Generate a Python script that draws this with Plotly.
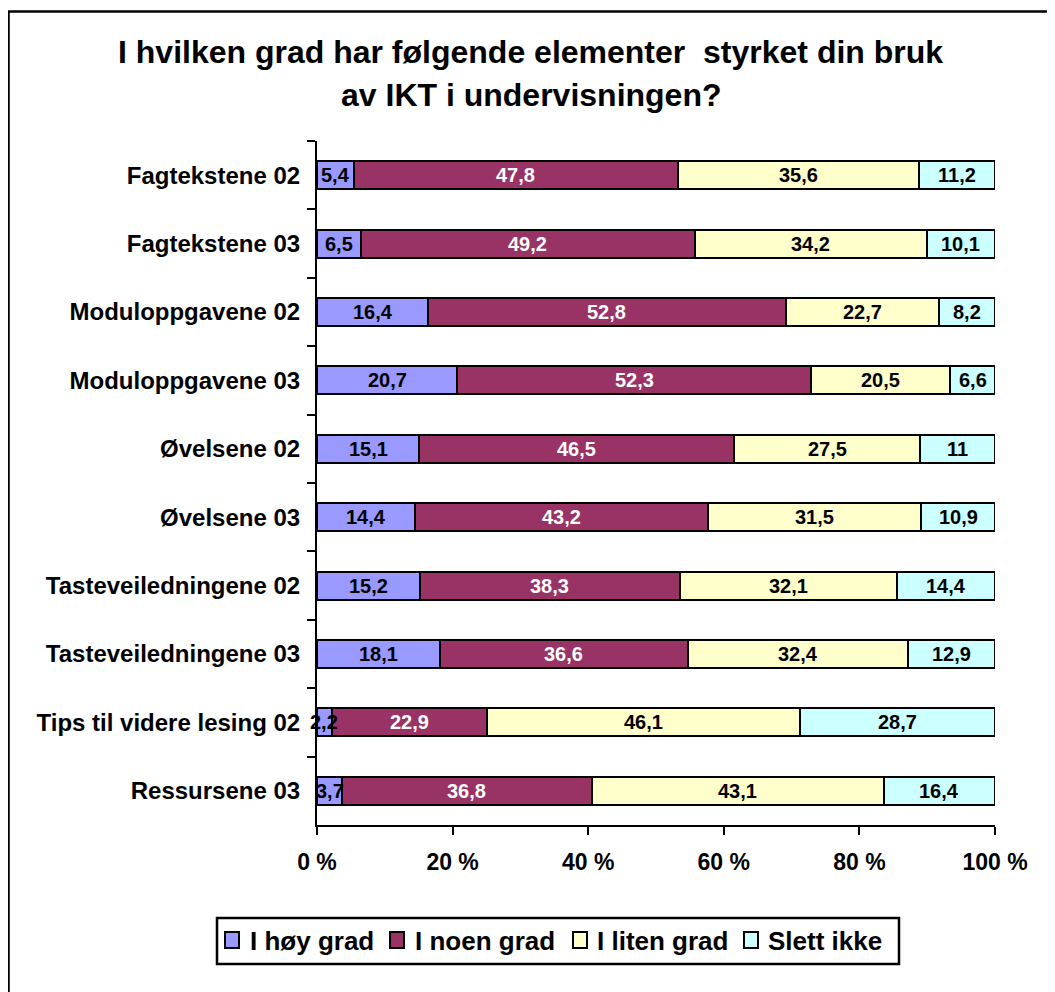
import plotly.graph_objects as go

categories = [
    "Fagtekstene 02", "Fagtekstene 03", "Moduloppgavene 02", "Moduloppgavene 03",
    "Øvelsene 02", "Øvelsene 03", "Tasteveiledningene 02", "Tasteveiledningene 03",
    "Tips til videre lesing 02", "Ressursene 03",
]
hoy_grad = [5.4, 6.5, 16.4, 20.7, 15.1, 14.4, 15.2, 18.1, 2.2, 3.7]
noen_grad = [47.8, 49.2, 52.8, 52.3, 46.5, 43.2, 38.3, 36.6, 22.9, 36.8]
liten_grad = [35.6, 34.2, 22.7, 20.5, 27.5, 31.5, 32.1, 32.4, 46.1, 43.1]
slett_ikke = [11.2, 10.1, 8.2, 6.6, 11, 10.9, 14.4, 12.9, 28.7, 16.4]

series_names = ["I høy grad", "I noen grad", "I liten grad", "Slett ikke"]
series_values = [hoy_grad, noen_grad, liten_grad, slett_ikke]
series_colors = ["#9999FF", "#993366", "#FFFFCC", "#CCFFFF"]
text_colors = ["black", "white", "black", "black"]

x_tickvals = [0, 20, 40, 60, 80, 100]
x_ticktext = ["0 %", "20 %", "40 %", "60 %", "80 %", "100 %"]

title_line1 = "I hvilken grad har følgende elementer  styrket din bruk"
title_line2 = "av IKT i undervisningen?"

FONT = "Liberation Sans, Arial, sans-serif"


def fmt(v):
    return ("%g" % v).replace(".", ",")


# page has an 8px body margin; figure is placed at page (8, 8)
OFF = 8
W, H = 1055 - OFF, 992 - OFF
L, R = 317 - OFF, 1055 - 995
T = 141 - OFF
B = H - (825 - OFF)
pw, ph = W - L - R, H - T - B


def px_x(p):
    return (p - OFF - L) / pw


def px_y(p):
    return (H - B - (p - OFF)) / ph


fig = go.Figure()
for name, vals, col in zip(series_names, series_values, series_colors):
    fig.add_trace(go.Bar(
        y=categories, x=vals, name=name, orientation="h",
        marker=dict(color=col, line=dict(color="black", width=2)),
        showlegend=False,
    ))

annotations = [
    dict(text=title_line1, xref="paper", yref="paper", x=px_x(530), y=px_y(52),
         xanchor="center", yanchor="middle", showarrow=False,
         font=dict(family=FONT, size=32, color="black", weight="bold")),
    dict(text=title_line2, xref="paper", yref="paper", x=px_x(531), y=px_y(95),
         xanchor="center", yanchor="middle", showarrow=False,
         font=dict(family=FONT, size=32, color="black", weight="bold")),
]

# value labels centred in each (normalised) segment
for j, cat in enumerate(categories):
    row = [vals[j] for vals in series_values]
    total = sum(row)
    cum = 0.0
    for v, tcol in zip(row, text_colors):
        mid = (cum + v / 2) / total * 100
        cum += v
        annotations.append(dict(
            text=fmt(v), x=mid, y=cat, xref="x", yref="y", showarrow=False,
            xanchor="center", yanchor="middle",
            font=dict(family=FONT, size=20, color=tcol, weight="bold")))

# boxed legend below the plot
legend_sq_x = [225, 390, 573, 744]
legend_txt_x = [248, 413, 595, 766]
legend_y = 940
shapes = [
    dict(type="rect", xref="paper", yref="paper",
         x0=px_x(8.5), x1=px_x(1080), y0=px_y(1020), y1=px_y(11.5),
         line=dict(color="black", width=2.5), fillcolor="rgba(0,0,0,0)", layer="below"),
    dict(type="rect", xref="paper", yref="paper",
         x0=px_x(217), x1=px_x(899), y0=px_y(964), y1=px_y(918),
         line=dict(color="black", width=2.5), fillcolor="white", layer="below"),
]
for name, col, sx, tx in zip(series_names, series_colors, legend_sq_x, legend_txt_x):
    shapes.append(dict(type="rect", xref="paper", yref="paper",
                       x0=px_x(sx), x1=px_x(sx + 14), y0=px_y(legend_y + 8), y1=px_y(legend_y - 8),
                       line=dict(color="black", width=2), fillcolor=col))
    annotations.append(dict(text=name, xref="paper", yref="paper", x=px_x(tx), y=px_y(legend_y + 1),
                            xanchor="left", yanchor="middle", showarrow=False,
                            font=dict(family=FONT, size=26, color="black", weight="bold")))

fig.update_layout(
    width=W, height=H,
    margin=dict(l=L, r=R, t=T, b=B, pad=0),
    barmode="stack", barnorm="percent", bargap=0.59,
    plot_bgcolor="white", paper_bgcolor="white",
    font=dict(family=FONT, color="black"),
    showlegend=False,
    xaxis=dict(
        range=[0, 100], tickvals=x_tickvals, ticktext=x_ticktext,
        showgrid=False, zeroline=False, showline=True, linecolor="black", linewidth=2,
        ticks="outside", ticklen=8, tickwidth=2, tickcolor="black",
        tickfont=dict(family=FONT, size=23, color="black", weight="bold"),
        ticklabelstandoff=7,
    ),
    yaxis=dict(
        autorange="reversed", showgrid=False, zeroline=False,
        showline=True, linecolor="black", linewidth=2,
        ticks="outside", ticklen=8, tickwidth=2, tickcolor="black", tickson="boundaries",
        tickfont=dict(family=FONT, size=24, color="black", weight="bold"),
        ticklabelstandoff=10,
    ),
    annotations=annotations,
    shapes=shapes,
)

fig.write_html("out.html")
